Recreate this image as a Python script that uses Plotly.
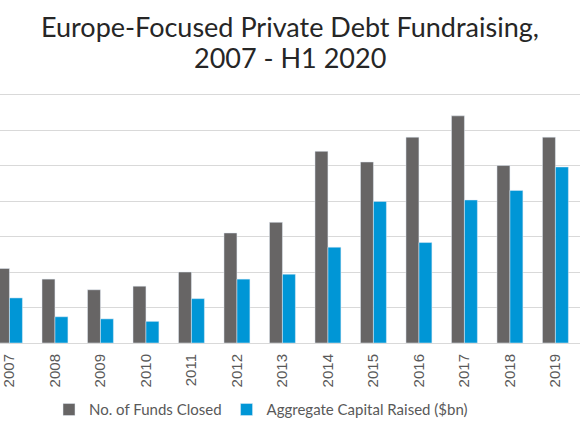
import plotly.graph_objects as go

years = [str(y) for y in range(2007, 2020)]
funds_closed = [21, 18, 15, 16, 20, 31, 34, 54, 51, 58, 64, 50, 58]
capital_raised = [12.7, 7.4, 6.8, 6.1, 12.5, 18, 19.4, 27, 39.9, 28.3, 40.3, 43, 49.6]

GREY = '#676565'
BLUE = '#0096D6'

fig = go.Figure()

fig.add_trace(go.Bar(
    x=years,
    y=funds_closed,
    name='No. of Funds Closed',
    marker=dict(color=GREY),
))

fig.add_trace(go.Bar(
    x=years,
    y=capital_raised,
    name='Aggregate Capital Raised ($bn)',
    marker=dict(color=BLUE),
))

# two-line title as annotations so the line spacing can be set
title_font = dict(family='Lato', size=27, color='#262626')
fig.add_annotation(text='Europe-Focused Private Debt Fundraising,',
                   x=0.5, y=1.256, xref='paper', yref='paper',
                   xanchor='center', yanchor='middle',
                   showarrow=False, font=title_font)
fig.add_annotation(text='2007 - H1 2020',
                   x=0.5, y=1.133, xref='paper', yref='paper',
                   xanchor='center', yanchor='middle',
                   showarrow=False, font=title_font)

fig.update_layout(
    width=580,
    height=435,
    barmode='group',
    bargap=0.43,
    bargroupgap=0,
    plot_bgcolor='white',
    paper_bgcolor='white',
    margin=dict(l=0, r=0, t=91, b=92),
    legend=dict(
        orientation='h',
        x=0.45, xanchor='center',
        y=-0.265, yanchor='middle',
        font=dict(family='Lato', size=15, color='#595959'),
        itemwidth=30,
    ),
    showlegend=True,
)

fig.update_xaxes(
    type='category',
    range=[-0.208, 12.54],
    tickangle=-90,
    tickfont=dict(family='Liberation Sans', size=15, color='#595959'),
    ticklabelstandoff=4,
    showline=True,
    linecolor='#d9d9d9',
    linewidth=1,
    ticks='',
)

fig.update_yaxes(
    range=[0, 71],
    dtick=10,
    showticklabels=False,
    showgrid=True,
    gridcolor='#d9d9d9',
    gridwidth=1,
    zeroline=False,
)

fig.write_html("out.html",
               config={'displayModeBar': False},
               post_script="document.body.style.margin='0';")
